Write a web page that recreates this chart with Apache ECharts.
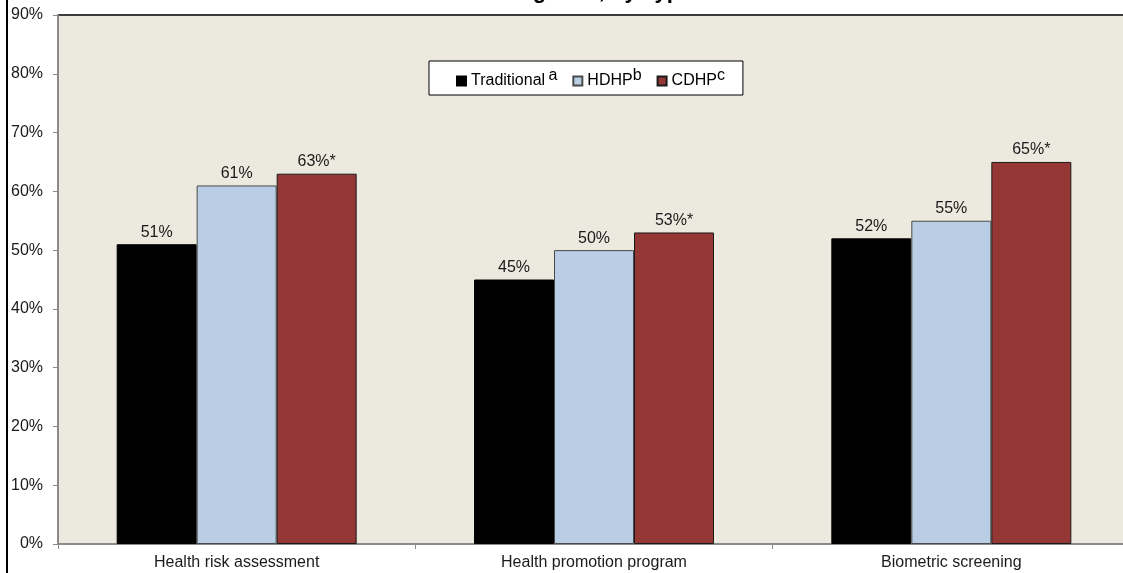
<!DOCTYPE html>
<html>
<head>
<meta charset="utf-8">
<script src="https://cdn.jsdelivr.net/npm/echarts@6/dist/echarts.min.js"></script>
<style>
  html, body { margin: 0; padding: 0; background: #fff; }
  #chart { width: 1123px; height: 573px; }
</style>
</head>
<body>
<div id="chart"></div>
<script>
// Share of respondents offered each wellness program, by plan type
const categories = ['Health risk assessment', 'Health promotion program', 'Biometric screening'];
const traditional = [51, 45, 52];
const hdhp = [61, 50, 55];
const cdhp = [63, 53, 65];
// significance markers printed after the CDHP values
const cdhpMarks = ['*', '*', '*'];
const yTicks = { min: 0, max: 90, step: 10 };

const FONT = '"Liberation Sans", Arial, sans-serif';

const chart = echarts.init(document.getElementById('chart'), null, { renderer: 'canvas' });

function labelStyle(marks) {
  return {
    show: true,
    position: 'top',
    distance: 4,
    color: '#1a1a1a',
    fontFamily: FONT,
    fontSize: 16,
    formatter: p => p.value + '%' + (marks ? marks[p.dataIndex] : '')
  };
}

const legendRich = {
  base: { fontFamily: FONT, fontSize: 16, color: '#000' },
  sup: { fontFamily: FONT, fontSize: 16, color: '#000', padding: [0, 0, 10, 0] }
};

chart.setOption({
  animation: false,
  backgroundColor: '#ffffff',
  grid: {
    // plot runs a little past the right edge of the canvas
    left: 58, top: 15, width: 1072, bottom: 29,
    outerBoundsMode: 'none',
    containLabel: false,
    show: true,
    backgroundColor: '#ECE9DF',
    borderColor: '#3c3c3c',
    borderWidth: 2
  },
  legend: {
    left: 429, top: 61,
    padding: [7, 18, 6, 27],
    itemGap: 15,
    itemWidth: 9, itemHeight: 9,
    icon: 'rect',
    backgroundColor: '#ffffff',
    borderColor: '#000000',
    borderWidth: 1,
    borderRadius: 0,
    textStyle: { rich: legendRich },
    formatter: name => {
      const sup = { 'Traditional': ' {sup|a}', 'HDHP': '{sup|b}', 'CDHP': '{sup|c}' }[name];
      return '{base|' + name + '}' + sup;
    },
    data: ['Traditional', 'HDHP', 'CDHP']
  },
  xAxis: {
    type: 'category',
    data: categories,
    axisLine: { lineStyle: { color: '#8a8a8a', width: 2 } },
    axisTick: { show: true, length: 5, lineStyle: { color: '#8a8a8a', width: 1 } },
    axisLabel: { color: '#1a1a1a', fontFamily: FONT, fontSize: 16, margin: 11 },
    splitLine: { show: false }
  },
  yAxis: {
    type: 'value',
    min: yTicks.min, max: yTicks.max, interval: yTicks.step,
    axisLine: { show: true, lineStyle: { color: '#8a8a8a', width: 2 } },
    axisTick: { show: true, length: 5, lineStyle: { color: '#8a8a8a', width: 1 } },
    axisLabel: { color: '#1a1a1a', fontFamily: FONT, fontSize: 16, margin: 15, formatter: '{value}%' },
    splitLine: { show: false }
  },
  series: [
    {
      name: 'Traditional', type: 'bar', data: traditional,
      barWidth: 80, barGap: '0%',
      itemStyle: { color: '#000000', borderColor: '#000000', borderWidth: 1 },
      label: labelStyle(null)
    },
    {
      name: 'HDHP', type: 'bar', data: hdhp,
      barWidth: 80, barGap: '0%',
      itemStyle: { color: '#B9CDE5', borderColor: '#4a4a4a', borderWidth: 1 },
      label: labelStyle(null)
    },
    {
      name: 'CDHP', type: 'bar', data: cdhp,
      barWidth: 80, barGap: '0%',
      itemStyle: { color: '#953735', borderColor: '#1a1a1a', borderWidth: 1 },
      label: labelStyle(cdhpMarks)
    }
  ],
  graphic: [
    {
      type: 'line', silent: true,
      shape: { x1: 7, y1: 0, x2: 7, y2: 573 },
      style: { stroke: '#000000', lineWidth: 2 }
    },
    {
      type: 'text', silent: true,
      x: 395, y: 3,
      style: {
        text: 'Wellness Programs, by Type of Plan',
        font: 'bold 22px ' + FONT,
        fill: '#000000',
        textAlign: 'left',
        textVerticalAlign: 'bottom'
      }
    }
  ]
});
</script>
</body>
</html>
